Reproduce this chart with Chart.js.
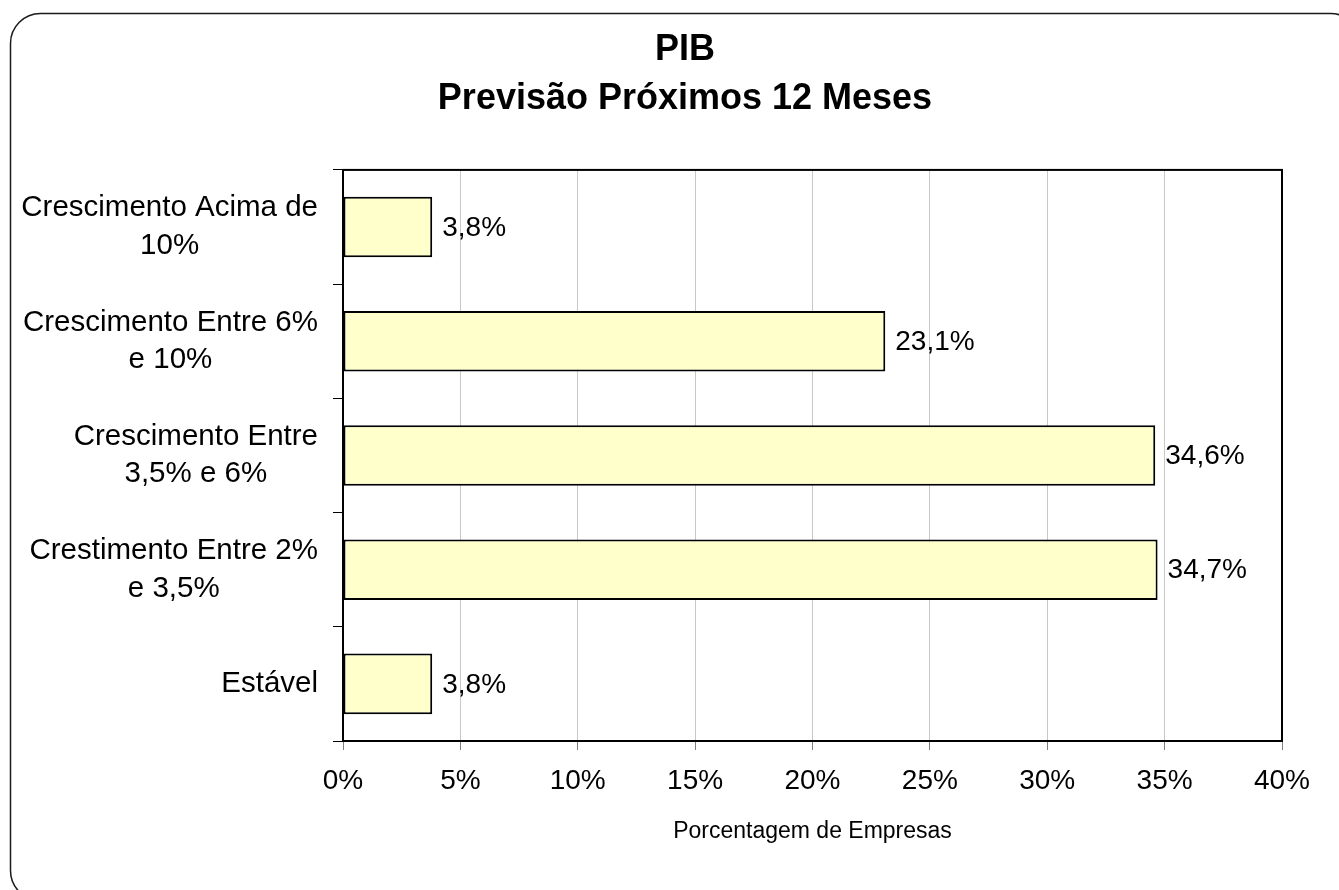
<!DOCTYPE html>
<html>
<head>
<meta charset="utf-8">
<script src="https://cdn.jsdelivr.net/npm/chart.js@4"></script>
<style>
  html, body { margin: 0; padding: 0; background: #fff; }
  #wrap { width: 1339px; height: 890px; }
</style>
</head>
<body>
<div id="wrap"><canvas id="chart" width="1339" height="890"></canvas></div>
<script>
const categories = [
  ["Crescimento Acima de", "10%"],
  ["Crescimento Entre 6%", "e 10%"],
  ["Crescimento Entre", "3,5% e 6%"],
  ["Crestimento Entre 2%", "e 3,5%"],
  ["Estável"]
];
const shares = [3.8, 23.1, 34.6, 34.7, 3.8];
const titleLines = ["PIB", "Previsão Próximos 12 Meses"];
const axisTitle = "Porcentagem de Empresas";

const FONT = "'Liberation Sans', Arial, sans-serif";

// rounded frame round the whole picture
const framePlugin = {
  id: "frame",
  beforeDraw(chart) {
    const ctx = chart.ctx;
    ctx.save();
    ctx.fillStyle = "#fff";
    ctx.fillRect(0, 0, chart.width, chart.height);
    ctx.strokeStyle = "#1a1a1a";
    ctx.lineWidth = 1.5;
    ctx.beginPath();
    ctx.roundRect(10.5, 13.5, 1350, 887, 30);
    ctx.stroke();
    ctx.restore();
  }
};

// black box round the plot area
const plotBox = {
  id: "plotBox",
  beforeDatasetsDraw(chart) {
    const { ctx, chartArea: a } = chart;
    ctx.save();
    ctx.strokeStyle = "#000";
    ctx.lineWidth = 2;
    ctx.strokeRect(a.left, a.top, a.right - a.left, a.bottom - a.top);
    ctx.restore();
  }
};

// category labels: block right aligned, lines centred in the block
const catLabels = {
  id: "catLabels",
  afterDraw(chart) {
    const ctx = chart.ctx;
    const y = chart.scales.y;
    ctx.save();
    ctx.font = "29.5px " + FONT;
    ctx.fillStyle = "#000";
    ctx.textAlign = "center";
    ctx.textBaseline = "middle";
    const lh = 37.5;
    const right = 318;
    categories.forEach((lines, i) => {
      const py = y.getPixelForValue(i);
      const w = Math.max(...lines.map(l => ctx.measureText(l).width));
      const cx = right - w / 2;
      const y0 = py - (lines.length - 1) * lh / 2;
      lines.forEach((l, j) => ctx.fillText(l, cx, y0 + j * lh));
    });
    ctx.restore();
  }
};

// value labels to the right of every bar
const valueLabels = {
  id: "valueLabels",
  afterDatasetsDraw(chart) {
    const ctx = chart.ctx;
    const meta = chart.getDatasetMeta(0);
    ctx.save();
    ctx.font = "28px " + FONT;
    ctx.fillStyle = "#000";
    ctx.textAlign = "left";
    ctx.textBaseline = "middle";
    meta.data.forEach((bar, i) => {
      const txt = shares[i].toFixed(1).replace(".", ",") + "%";
      ctx.fillText(txt, bar.x + 10, bar.y + 1);
    });
    ctx.restore();
  }
};

new Chart(document.getElementById("chart"), {
  type: "bar",
  data: {
    labels: categories,
    datasets: [{
      data: shares,
      backgroundColor: "#FFFFCC",
      borderColor: "#000",
      borderWidth: 2,
      borderSkipped: false,
      categoryPercentage: 1,
      barPercentage: 0.53
    }]
  },
  options: {
    indexAxis: "y",
    responsive: false,
    animation: false,
    // title is centred on the whole chart object, which runs past the right edge
    layout: { padding: { top: 13, left: 88, right: 57, bottom: 41 } },
    plugins: {
      legend: { display: false },
      tooltip: { enabled: false },
      title: {
        display: true,
        text: titleLines,
        color: "#000",
        font: { family: FONT, size: 36, weight: "bold", lineHeight: 1.36 },
        padding: { top: 12.5, bottom: 46.5 }
      }
    },
    scales: {
      x: {
        min: 0,
        max: 40,
        ticks: {
          stepSize: 5,
          color: "#000",
          font: { family: FONT, size: 28 },
          padding: 14,
          callback: v => v + "%"
        },
        grid: { color: "#c8c8c8", lineWidth: 1, tickColor: "#808080", tickLength: 9 },
        border: { color: "#000", width: 2 },
        title: {
          display: true,
          text: axisTitle,
          color: "#000",
          font: { family: FONT, size: 23 },
          padding: { top: 0, bottom: 4 }
        },
        afterFit(s) { s.height = 108; }
      },
      y: {
        ticks: { display: false },
        grid: { display: true, drawOnChartArea: false, offset: true, tickLength: 10, tickColor: "#000" },
        border: { color: "#000", width: 2 },
        afterFit(s) { s.width = 255; }
      }
    }
  },
  plugins: [framePlugin, plotBox, catLabels, valueLabels]
});
</script>
</body>
</html>
